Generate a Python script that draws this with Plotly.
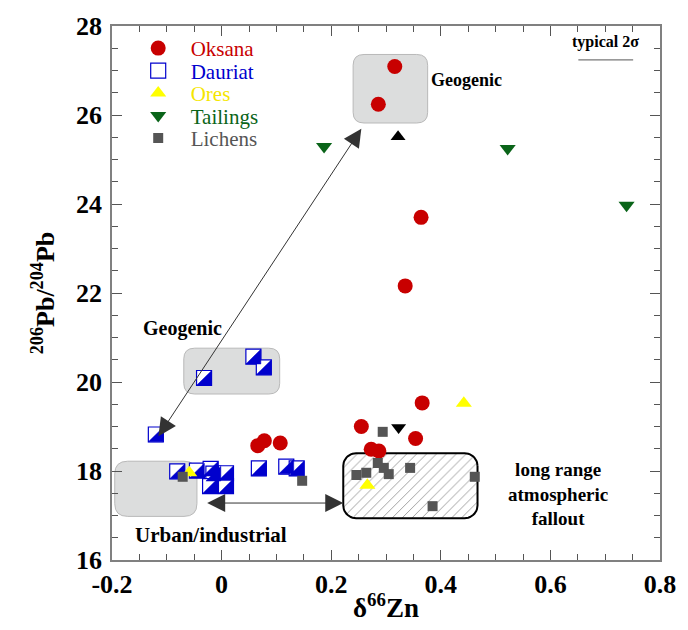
import numpy as np
import plotly.graph_objects as go

# ---------------- data ----------------
oksana_x = [0.316, 0.286, 0.364, 0.335, 0.366, 0.255, 0.354, 0.273, 0.287, 0.066, 0.078, 0.107]
oksana_y = [27.09, 26.24, 23.70, 22.16, 19.53, 19.00, 18.73, 18.49, 18.45, 18.57, 18.68, 18.63]

dauriat_x = [-0.120, -0.081, -0.045, -0.020, -0.015, -0.021, 0.008, 0.008, 0.068, 0.118, 0.137, -0.032, 0.058, 0.077]
dauriat_y = [18.82, 17.99, 18.01, 18.05, 17.94, 17.66, 17.95, 17.66, 18.06, 18.10, 18.06, 20.09, 20.57, 20.33]

ores_x = [-0.059, 0.266, 0.442]
ores_y = [17.96, 17.68, 19.52]

tailings_x = [0.187, 0.522, 0.739]
tailings_y = [25.29, 25.25, 23.97]

lichens_x = [-0.071, 0.147, 0.294, 0.246, 0.264, 0.285, 0.296, 0.305, 0.344, 0.462, 0.385]
lichens_y = [17.87, 17.78, 18.88, 17.91, 17.96, 18.18, 18.07, 17.93, 18.07, 17.87, 17.21]

marker_up_x, marker_up_y = [0.322], [25.51]
marker_dn_x, marker_dn_y = [0.323], [18.98]

x_ticks = [-0.2, 0, 0.2, 0.4, 0.6, 0.8]
x_tick_labels = ["-0.2", "0", "0.2", "0.4", "0.6", "0.8"]
y_ticks = [16, 18, 20, 22, 24, 26, 28]
y_tick_labels = ["16", "18", "20", "22", "24", "26", "28"]

# ---------------- layout geometry ----------------
W, H = 688, 630
ML, MR, MT, MB = 112, 24, 18, 65
XR = (-0.2, 0.8)
YR = (16, 28)
PLOT_H = H - MT - MB
PX_X = (W - ML - MR) / (XR[1] - XR[0])
PX_Y = PLOT_H / (YR[1] - YR[0])

SERIF = "Liberation Serif"

def rounded_path(x0, x1, y0, y1, rpx):
    rx, ry = rpx / PX_X, rpx / PX_Y
    return (f"M {x0+rx},{y0} L {x1-rx},{y0} Q {x1},{y0} {x1},{y0+ry} "
            f"L {x1},{y1-ry} Q {x1},{y1} {x1-rx},{y1} L {x0+rx},{y1} "
            f"Q {x0},{y1} {x0},{y1-ry} L {x0},{y0+ry} Q {x0},{y0} {x0+rx},{y0} Z")

def rounded_poly(x0, x1, y0, y1, rpx, n=12):
    rx, ry = rpx / PX_X, rpx / PX_Y
    xs, ys = [], []
    corners = [(x1 - rx, y1 - ry, 0), (x0 + rx, y1 - ry, 90), (x0 + rx, y0 + ry, 180), (x1 - rx, y0 + ry, 270)]
    for cx, cy, a0 in corners:
        t = np.radians(np.linspace(a0, a0 + 90, n))
        xs += list(cx + rx * np.cos(t))
        ys += list(cy + ry * np.sin(t))
    xs.append(xs[0]); ys.append(ys[0])
    return xs, ys

fig = go.Figure()

# hatched "long range atmospheric fallout" region
hx, hy = rounded_poly(0.222, 0.467, 16.94, 18.40, 13)
fig.add_trace(go.Scatter(x=hx, y=hy, mode="lines", fill="toself", fillcolor="white",
                         fillpattern=dict(shape="/", fgcolor="#222", bgcolor="white", size=7, solidity=0.12),
                         line=dict(color="black", width=2), showlegend=False, hoverinfo="skip"))

def lab(t, c):
    return f"<span style='color:{c}'>{t}</span>"

RED, BLUE, YEL, GRN, GRY = "#c80000", "#0000cd", "#ffff00", "#0a6419", "#555555"

fig.add_trace(go.Scatter(x=oksana_x, y=oksana_y, mode="markers", name=lab("Oksana", RED), legend="legend",
                         marker=dict(symbol="circle", size=15, color=RED)))

SQ = 15  # px side of Dauriat symbol
fig.add_trace(go.Scatter(x=dauriat_x, y=dauriat_y, mode="markers", name=lab("Dauriat", BLUE), legend="legend2",
                         marker=dict(symbol="square", size=SQ, color="white", line=dict(color=BLUE, width=1.2))))
# lower-right filled half of each Dauriat symbol
hxp, hyp = (SQ / 2) / PX_X, (SQ / 2) / PX_Y
tx, ty = [], []
for xv, yv in zip(dauriat_x, dauriat_y):
    tx += [xv + hxp, xv + hxp, xv - hxp, xv + hxp, None]
    ty += [yv + hyp, yv - hyp, yv - hyp, yv + hyp, None]
fig.add_trace(go.Scatter(x=tx, y=ty, mode="lines", fill="toself", fillcolor=BLUE,
                         line=dict(color=BLUE, width=0.5), showlegend=False, hoverinfo="skip"))

fig.add_trace(go.Scatter(x=ores_x, y=ores_y, mode="markers", name=lab("Ores", "#f5e600"), legend="legend3",
                         marker=dict(symbol="triangle-up", size=14, color=YEL)))
fig.add_trace(go.Scatter(x=tailings_x, y=tailings_y, mode="markers", name=lab("Tailings", GRN), legend="legend4",
                         marker=dict(symbol="triangle-down", size=14, color=GRN)))
fig.add_trace(go.Scatter(x=lichens_x, y=lichens_y, mode="markers", name=lab("Lichens", GRY), legend="legend5",
                         marker=dict(symbol="square", size=10, color=GRY)))
fig.add_trace(go.Scatter(x=marker_up_x, y=marker_up_y, mode="markers", showlegend=False,
                         marker=dict(symbol="triangle-up", size=13, color="black")))
fig.add_trace(go.Scatter(x=marker_dn_x, y=marker_dn_y, mode="markers", showlegend=False,
                         marker=dict(symbol="triangle-down", size=13, color="black")))

# grey rounded regions
shapes = []
for (x0, x1, y0, y1, r) in [(0.240, 0.376, 25.82, 27.36, 11), (-0.069, 0.106, 19.73, 20.76, 11),
                            (-0.195, -0.045, 16.98, 18.22, 13)]:
    shapes.append(dict(type="path", xref="x", yref="y", path=rounded_path(x0, x1, y0, y1, r),
                       fillcolor="#dcdddd", line=dict(color="#b9b9b9", width=1), layer="below"))
# typical 2 sigma bar
shapes.append(dict(type="line", xref="x", yref="y", x0=0.651, x1=0.751, y0=27.24, y1=27.24,
                   line=dict(color="#777", width=1.2)))

def bf(size):
    return dict(family=SERIF, size=size, color="black", weight="bold")

annotations = [
    dict(x=0.447, y=26.79, text="Geogenic", showarrow=False, font=bf(18)),
    dict(x=-0.071, y=21.2, text="Geogenic", showarrow=False, font=bf(20)),
    dict(x=-0.02, y=16.57, text="Urban/industrial", showarrow=False, font=bf(21)),
    dict(x=0.613, y=17.48, text="long range<br>atmospheric<br>fallout", showarrow=False, font=bf(19)),
    dict(x=0.70, y=27.63, text="typical 2σ", showarrow=False, font=bf(16)),
    dict(x=0.255, y=25.69, ax=-0.117, ay=18.75, xref="x", yref="y", axref="x", ayref="y", text="",
         showarrow=True, arrowside="end+start", arrowhead=2, arrowsize=3.6, startarrowhead=2, startarrowsize=3.6,
         arrowwidth=1, arrowcolor="#333"),
    dict(x=0.222, y=17.28, ax=-0.029, ay=17.28, xref="x", yref="y", axref="x", ayref="y", text="",
         showarrow=True, arrowside="end+start", arrowhead=2, arrowsize=3.6, startarrowhead=2, startarrowsize=3.6,
         arrowwidth=1, arrowcolor="#333"),
]

axis_common = dict(showline=True, linecolor="#808080", linewidth=1.5, mirror="ticks", ticks="inside",
                   ticklen=10, tickwidth=1.2, tickcolor="#555", showgrid=False, zeroline=False,
                   tickfont=bf(26))

legend_rows_px = [41, 64, 87, 110, 133]
legend_common = dict(x=0.025, xanchor="left", yanchor="middle", bgcolor="rgba(0,0,0,0)",
                     font=dict(family=SERIF, size=21, color="black"), itemwidth=55)
legends = {}
for i, rp in enumerate(legend_rows_px):
    key = "legend" if i == 0 else f"legend{i+1}"
    legends[key] = dict(y=1 - (rp - MT) / PLOT_H, **legend_common)

fig.update_layout(
    width=W, height=H, margin=dict(l=ML, r=MR, t=MT, b=MB),
    plot_bgcolor="white", paper_bgcolor="white",
    font=dict(family=SERIF),
    xaxis=dict(range=list(XR), tickvals=x_ticks, ticktext=x_tick_labels,
               minor=dict(dtick=0.05, ticks="inside", ticklen=6, tickcolor="#555"),
               title=dict(text="δ<sup>66</sup>Zn", font=bf(27), standoff=0), **axis_common),
    yaxis=dict(range=list(YR), tickvals=y_ticks, ticktext=y_tick_labels, ticklabelstandoff=3,
               minor=dict(dtick=0.5, ticks="inside", ticklen=6, tickcolor="#555"),
               title=dict(text="<sup>206</sup>Pb/<sup>204</sup>Pb", font=bf(26), standoff=14),
               **axis_common),
    shapes=shapes, annotations=annotations, showlegend=True,
    **legends,
)

fig.write_html("out.html")
